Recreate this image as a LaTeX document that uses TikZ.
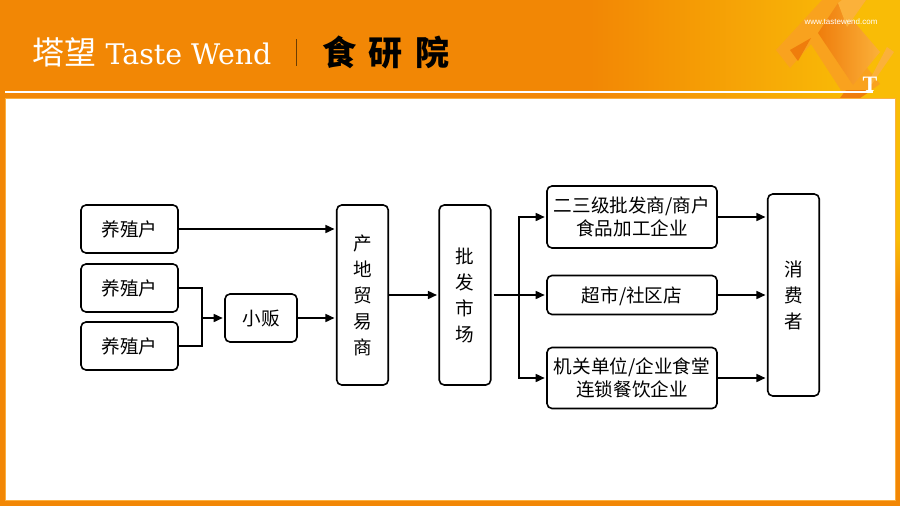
\documentclass[tikz,border=0pt]{standalone}
\usepackage{fontspec}
\setmainfont{Noto Sans CJK SC}
\newfontfamily\logofont{DejaVu Serif}
\newfontfamily\webfont{Liberation Sans}
\newfontfamily\markfont{Liberation Serif}
\usetikzlibrary{arrows.meta,calc}
\definecolor{banner}{HTML}{F28705}
\definecolor{bannerend}{HTML}{F9BC06}
\definecolor{panelrim}{HTML}{FBB040}
\definecolor{foldlight}{HTML}{FBB13A}
\definecolor{foldmid}{HTML}{F9A21E}
\definecolor{folddark}{HTML}{EF7D0C}
\tikzset{
  flowbox/.style={draw=black, line width=1.6pt, rounded corners=5pt, inner sep=0pt,
    align=center, font=\fontsize{18.6}{23}\selectfont,
    execute at begin node={\rule{0pt}{17.5pt}}},
  tallbox/.style={flowbox, minimum width=51.5pt, font=\fontsize{18.6}{26}\selectfont},
  link/.style={->, black, line width=1.6pt, shorten >=1.5pt}
}
\begin{document}
\begin{tikzpicture}[>={Stealth[length=9pt,width=8pt,inset=0pt]}, x=1pt, y=-1pt]

  % --- Page and banner ---
  \useasboundingbox (0,0) rectangle (900,506);
  \fill[banner] (0,0) rectangle (900,506);
  \shade[left color=banner, right color=bannerend] (590,0) rectangle (860,98);
  \fill[bannerend] (860,0) rectangle (900,240);
  \shade[top color=bannerend, bottom color=banner] (860,240) rectangle (900,300);

  % --- Folded T mark ---
  \fill[foldmid] (776,50) -- (822,0) -- (866,0) -- (840,34) -- (880,84) -- (860,98) -- (846,98) -- (811,44) -- (790,68) -- cycle;
  \fill[folddark] (790,50) -- (811,38) -- (798,61) -- cycle;
  \shade[left color=folddark, right color=foldlight] (818,33) -- (838,3) -- (880,52) -- (853,85) -- cycle;
  \fill[foldlight] (838,3) -- (842,0) -- (866,0) -- (847,27) -- cycle;
  \fill[foldlight] (868,83) -- (887,47) -- (894,52) -- (872,84) -- cycle;
  \fill[folddark] (840,98) -- (846,90) -- (872,90) -- (860,98) -- cycle;

  % --- Logo ---
  \node[white, font=\fontsize{32}{32}\selectfont, inner sep=0pt] (brand) at (64,52) {塔望};
  \node[white, font=\logofont\fontsize{28.4}{29}\selectfont, inner sep=0pt] (brandlatin) at (188.5,53.5) {Taste Wend};
  \draw[black!55!banner, line width=0.8pt] (296.5,39) -- (296.5,66);
  \node[black, font=\fontsize{34}{34}\bfseries\selectfont, inner sep=0pt] (institute) at (386,52)
    {食\hspace{13pt}研\hspace{13pt}院};
  \node[white, font=\webfont\fontsize{8}{8}\selectfont, inner sep=0pt] (website) at (841,22) {www.tastewend.com};
  \node[white, font=\markfont\bfseries\fontsize{22}{22}\selectfont, inner sep=0pt] (letter) at (870,84) {T};

  % --- Rule and panel ---
  \draw[white, line width=1.2pt] (5,92) -- (873,92);
  \fill[white, draw=panelrim, line width=0.8pt] (5,98) rectangle (895,500);

  % --- Farmers and peddler ---
  \node[flowbox, minimum width=97pt, minimum height=48pt] (farmerA) at (129.5,229) {养殖户};
  \node[flowbox, minimum width=97pt, minimum height=48pt] (farmerB) at (129.5,288) {养殖户};
  \node[flowbox, minimum width=97pt, minimum height=48pt] (farmerC) at (129.5,346) {养殖户};
  \node[flowbox, minimum width=72pt, minimum height=48pt] (peddler) at (261,318) {小贩};

  % --- Trading stages ---
  \node[tallbox, minimum height=180pt] (origin) at (362.5,295) {产\\地\\贸\\易\\商};
  \node[tallbox, minimum height=180pt] (market) at (465,295) {批\\发\\市\\场};
  \node[flowbox, minimum width=170pt, minimum height=62pt] (dealer) at (632,217) {二三级批发商/商户\\食品加工企业};
  \node[flowbox, minimum width=170pt, minimum height=39pt] (retail) at (632,295) {超市/社区店};
  \node[flowbox, minimum width=170pt, minimum height=61pt] (canteen) at (632,378) {机关单位/企业食堂\\连锁餐饮企业};
  \node[tallbox, minimum height=202pt] (consumer) at (793.5,295) {消\\费\\者};

  % --- Links on the left ---
  \coordinate (join) at (202,318);
  \draw[link] (farmerA.east) -- (farmerA.east -| origin.west);
  \draw[line width=1.6pt] (farmerB.east) -| (join);
  \draw[line width=1.6pt] (farmerC.east) -| (join);
  \draw[link] (join) -- (peddler.west);
  \draw[link] (peddler.east) -- (peddler.east -| origin.west);
  \draw[link] (origin.east) -- (market.west);

  % --- Links on the right ---
  \coordinate (fork) at (519,295);
  \draw[link] (market.east) ++(2,0) -- (retail.west);
  \draw[link] (fork) |- (dealer.west);
  \draw[link] (fork) |- (canteen.west);
  \foreach \src in {dealer, retail, canteen} {
    \draw[link] (\src.east) -- (\src.east -| consumer.west);
  }

\end{tikzpicture}
\end{document}
